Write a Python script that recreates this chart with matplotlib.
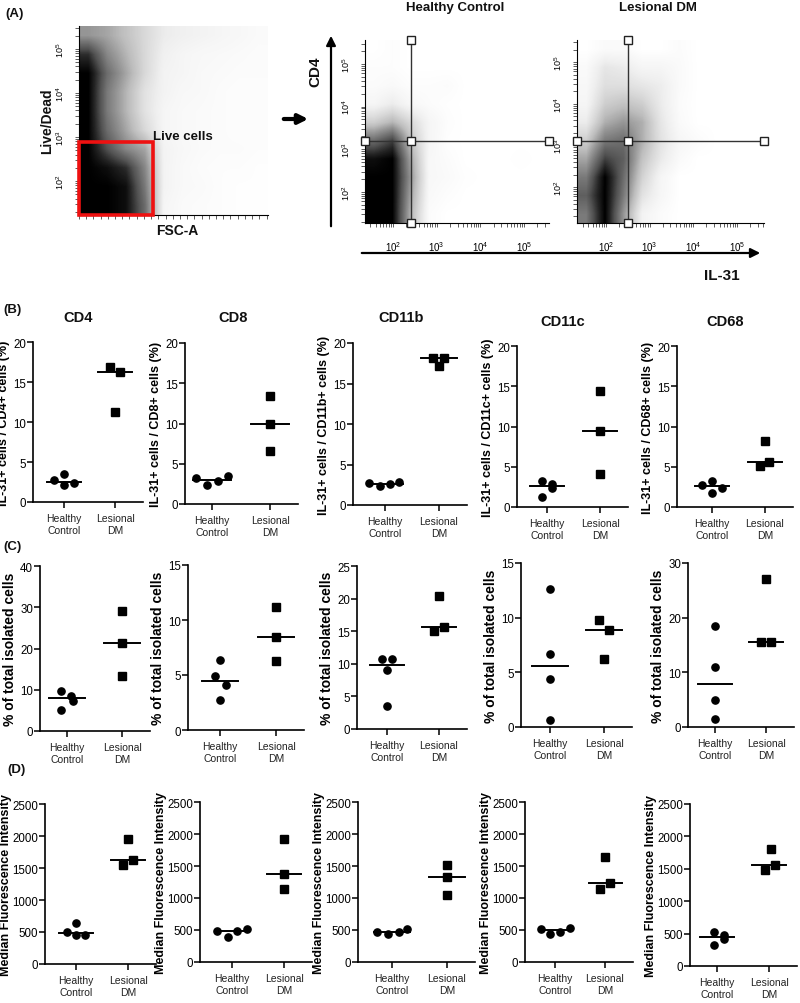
import numpy as np
import matplotlib
matplotlib.use('Agg')
import matplotlib.pyplot as plt
from matplotlib.patches import Rectangle

plt.rcParams['font.family'] = ['Liberation Sans', 'DejaVu Sans']
plt.rcParams['mathtext.default'] = 'regular'

W, H = 800, 1004

# ---------------- (A) flow dot plots, read as coarse density grids (0 empty .. 1 solid)
# rows top -> bottom, columns left -> right
live_dead_density = [
    [0.50, 0.45, 0.35, 0.25, 0.15, 0.12, 0.10, 0.08, 0.06, 0.04],
    [0.85, 0.55, 0.40, 0.25, 0.12, 0.08, 0.06, 0.05, 0.04, 0.03],
    [1.00, 0.65, 0.45, 0.25, 0.10, 0.08, 0.05, 0.04, 0.03, 0.03],
    [1.00, 0.60, 0.40, 0.20, 0.10, 0.06, 0.05, 0.03, 0.02, 0.02],
    [1.00, 0.60, 0.40, 0.20, 0.08, 0.05, 0.04, 0.03, 0.02, 0.02],
    [1.00, 0.65, 0.45, 0.25, 0.08, 0.05, 0.04, 0.03, 0.02, 0.02],
    [1.00, 0.75, 0.55, 0.45, 0.10, 0.06, 0.04, 0.03, 0.03, 0.02],
    [1.00, 0.95, 0.85, 0.55, 0.10, 0.05, 0.03, 0.02, 0.02, 0.01],
    [1.00, 1.00, 0.95, 0.60, 0.10, 0.05, 0.04, 0.02, 0.01, 0.01],
    [1.00, 1.00, 0.95, 0.65, 0.08, 0.04, 0.03, 0.02, 0.01, 0.01],
]
hc_density = [
    [0.00, 0.02, 0.00, 0.00, 0.00, 0.00, 0.00, 0.00, 0.00, 0.00],
    [0.02, 0.02, 0.00, 0.00, 0.00, 0.00, 0.00, 0.00, 0.00, 0.00],
    [0.03, 0.05, 0.02, 0.02, 0.03, 0.00, 0.00, 0.00, 0.00, 0.00],
    [0.08, 0.15, 0.06, 0.03, 0.01, 0.00, 0.00, 0.00, 0.00, 0.00],
    [0.30, 0.40, 0.25, 0.08, 0.02, 0.00, 0.00, 0.00, 0.00, 0.00],
    [0.65, 0.80, 0.35, 0.08, 0.01, 0.00, 0.00, 0.00, 0.00, 0.00],
    [0.95, 1.00, 0.45, 0.06, 0.03, 0.00, 0.00, 0.00, 0.01, 0.00],
    [1.00, 1.00, 0.50, 0.06, 0.04, 0.01, 0.00, 0.00, 0.00, 0.00],
    [1.00, 1.00, 0.45, 0.05, 0.02, 0.00, 0.00, 0.00, 0.00, 0.00],
    [1.00, 1.00, 0.40, 0.03, 0.00, 0.00, 0.00, 0.00, 0.00, 0.00],
]
ldm_density = [
    [0.00, 0.04, 0.04, 0.00, 0.00, 0.03, 0.00, 0.00, 0.00, 0.00],
    [0.04, 0.18, 0.15, 0.08, 0.08, 0.04, 0.00, 0.00, 0.00, 0.00],
    [0.06, 0.22, 0.22, 0.18, 0.14, 0.04, 0.00, 0.00, 0.00, 0.00],
    [0.08, 0.30, 0.35, 0.30, 0.15, 0.03, 0.00, 0.00, 0.00, 0.00],
    [0.15, 0.42, 0.50, 0.42, 0.18, 0.04, 0.00, 0.00, 0.00, 0.00],
    [0.30, 0.60, 0.65, 0.42, 0.20, 0.07, 0.03, 0.00, 0.00, 0.00],
    [0.45, 0.80, 0.70, 0.35, 0.16, 0.04, 0.00, 0.00, 0.00, 0.00],
    [0.60, 1.00, 0.65, 0.28, 0.08, 0.00, 0.00, 0.00, 0.00, 0.00],
    [0.70, 1.00, 0.60, 0.20, 0.07, 0.00, 0.00, 0.00, 0.00, 0.00],
    [0.60, 1.00, 0.50, 0.10, 0.03, 0.00, 0.00, 0.00, 0.00, 0.00],
]
# gates (log10 units): IL-31 cut, CD4 cut
hc_gate = [2.42, 3.2]
ldm_gate = [2.5, 3.1]
live_gate = [103, 2.89]    # FSC-A (k) upper edge, Live/Dead (log10) upper edge
decades = [2, 3, 4, 5]

# ---------------- (B) IL-31+ cells / marker+ cells (%)
b_titles = ['CD4', 'CD8', 'CD11b', 'CD11c', 'CD68']
b_ylabels = ['IL-31+ cells / %s+ cells (%%)' % t for t in b_titles]
b_hc = [[2.7, 3.5, 2.1, 2.4], [3.2, 2.3, 2.8, 3.5], [2.7, 2.4, 2.6, 2.9],
        [3.2, 1.3, 2.9, 2.3], [2.7, 3.2, 1.7, 2.4]]
b_ldm = [[16.9, 16.3, 11.3], [13.4, 9.9, 6.6], [18.1, 18.1, 17.2],
         [14.4, 9.4, 4.1], [8.2, 5.1, 5.6]]
b_ymax = [20, 20, 20, 20, 20]
b_ystep = [5, 5, 5, 5, 5]

# ---------------- (C) % of total isolated cells
c_hc = [[9.6, 5.0, 8.5, 7.3], [6.4, 4.9, 4.1, 2.75], [10.7, 10.7, 9.0, 3.6],
        [12.6, 6.7, 4.4, 0.64], [18.4, 10.9, 4.9, 1.5]]
c_ldm = [[29.0, 21.3, 13.3], [11.2, 8.5, 6.3], [20.4, 15.1, 15.6],
         [9.8, 8.9, 6.2], [27.1, 15.5, 15.5]]
c_ymax = [40, 15, 25, 15, 30]
c_ystep = [10, 5, 5, 5, 10]

# ---------------- (D) Median Fluorescence Intensity
d_hc = [[500, 635, 460, 460], [492, 388, 482, 518], [474, 443, 474, 520],
        [520, 443, 474, 531], [517, 320, 480, 410]]
d_ldm = [[1953, 1547, 1630], [1917, 1373, 1140], [1510, 1333, 1047],
         [1646, 1146, 1240], [1810, 1484, 1551]]
d_ymax = [2500] * 5
d_ystep = [500] * 5

groups = ['Healthy\nControl', 'Lesional\nDM']

# horizontal scatter of the points (layout only)
b_hc_dx = [[-0.19, 0, 0, 0.19], [-0.28, -0.09, 0.1, 0.28], [-0.29, -0.1, 0.1, 0.26],
           [-0.1, -0.1, 0.1, 0.1], [-0.19, 0, 0, 0.19]]
b_ldm_dx = [[-0.1, 0.1, 0], [0, 0, 0], [-0.12, 0.09, 0], [0, 0, 0], [0, -0.1, 0.08]]
c_hc_dx = [[-0.11, -0.11, 0.08, 0.1], [0, -0.09, 0.1, 0], [-0.1, 0.1, 0, 0],
           [0, 0, 0, 0], [0, 0, 0, 0]]
c_ldm_dx = [[0, 0, 0], [0, 0, 0], [0, -0.1, 0.1], [-0.09, 0.1, 0], [0, -0.1, 0.1]]
d_hc_dx = [[-0.18, 0, 0, 0.18], [-0.28, -0.08, 0.1, 0.28], [-0.27, -0.08, 0.12, 0.28],
           [-0.29, -0.1, 0.1, 0.29], [-0.06, -0.06, 0.13, 0.13]]
d_ldm_dx = [[0, -0.09, 0.1], [0, 0, 0], [0, 0, 0], [0, -0.11, 0.1], [0.03, -0.08, 0.12]]

# pixel layout: y-axis x, HC x, LDM x, top y, zero y
b_box = [(33, 64, 115, 343, 503), (185, 212, 270, 344, 505), (353, 385, 439, 344, 506),
         (517, 547, 600, 347, 508), (677, 712, 765, 347, 508)]
c_box = [(40, 67, 122, 567, 732), (188, 220, 276, 566, 731), (357, 387, 439, 567, 730),
         (521, 550, 604, 564, 728), (688, 715, 766, 564, 728)]
d_box = [(45, 76, 128, 805, 965), (200, 232, 284, 803, 963), (358, 392, 447, 803, 963),
         (525, 555, 605, 803, 963), (690, 717, 769, 805, 967)]


def pxAxes(fig, left, top, right, bottom):
    return fig.add_axes([left / W, 1 - bottom / H, (right - left) / W, (bottom - top) / H])


def flowPlot(ax, density, xlim, ylim, gate):
    ax.imshow(np.array(density), cmap='Greys', vmin=0, vmax=1, aspect='auto',
              extent=(xlim[0], xlim[1], ylim[0], ylim[1]), interpolation='bilinear')
    ax.set_xlim(*xlim)
    ax.set_ylim(*ylim)
    for s in ['top', 'right']:
        ax.spines[s].set_visible(False)
    minor = [d + np.log10(k) for d in range(1, 6) for k in range(2, 10)]
    ax.set_xticks(decades)
    ax.set_yticks(decades)
    ax.set_xticklabels(['$10^{%d}$' % d for d in decades], fontsize=7)
    ax.set_yticklabels(['$10^{%d}$' % d for d in decades], fontsize=6.5, rotation=90, va='center')
    ax.set_xticks([m for m in minor if xlim[0] < m < xlim[1]], minor=True)
    ax.set_yticks([m for m in minor if ylim[0] < m < ylim[1]], minor=True)
    ax.tick_params(which='both', length=3, width=0.6, color='#444')
    ax.tick_params(axis='x', pad=9)
    ax.tick_params(axis='y', pad=6)
    gx, gy = gate
    ax.plot([gx, gx], [ylim[0], ylim[1]], color='#333', lw=1, clip_on=False)
    ax.plot([xlim[0], xlim[1]], [gy, gy], color='#333', lw=1, clip_on=False)
    ax.plot([xlim[0], gx, xlim[1], gx, gx], [gy, gy, gy, ylim[0], ylim[1]], 's',
            mfc='white', mec='#222', ms=6, mew=1, clip_on=False, zorder=5)


def dotPlot(ax, hc, ldm, hc_dx, ldm_dx, ymax, ystep, ylabel, box, labelsize, labelpad):
    axis_x, hc_x, ldm_x, top, zero = box
    unit = ldm_x - hc_x
    ax.set_xlim(-(hc_x - axis_x) / unit, 1 + 28 / unit)
    ax.set_ylim(0, ymax)
    ax.plot(np.array(hc_dx), hc, 'o', color='k', ms=5.2, clip_on=False)
    ax.plot(1 + np.array(ldm_dx), ldm, 's', color='k', ms=5.2, clip_on=False)
    for x0, vals in [(0, hc), (1, ldm)]:
        m = np.median(vals)
        ax.plot([x0 - 0.33, x0 + 0.33], [m, m], color='k', lw=1.4)
    for s in ['top', 'right']:
        ax.spines[s].set_visible(False)
    for s in ['left', 'bottom']:
        ax.spines[s].set_linewidth(1.2)
    ax.set_yticks(np.arange(0, ymax + 1, ystep))
    ax.set_xticks([0, 1])
    ax.set_xticklabels(groups, fontsize=7.5, color='#222')
    ax.tick_params(axis='y', labelsize=8.3, length=4, width=1.1, pad=1)
    ax.tick_params(axis='x', length=4, width=1.1, pad=4)
    ax.set_ylabel(ylabel, fontsize=labelsize, fontweight='bold', labelpad=labelpad)


fig = plt.figure(figsize=(W / 100, H / 100), dpi=100)

# ---- (A)
ax = pxAxes(fig, 79, 27, 268, 216)
ax.imshow(np.array(live_dead_density), cmap='Greys', vmin=0, vmax=1, aspect='auto',
          extent=(0, 262, 1.23, 5.52), interpolation='bilinear')
ax.set_xlim(0, 262)
ax.set_ylim(1.23, 5.52)
for s in ['top', 'right']:
    ax.spines[s].set_visible(False)
ax.set_xticks(np.arange(0, 262, 10))
ax.set_xticklabels([])
ax.set_yticks(decades)
ax.set_yticklabels(['$10^{%d}$' % d for d in decades], fontsize=6.5, rotation=90, va='center')
ax.set_yticks([d + np.log10(k) for d in range(1, 6) for k in range(2, 10)
               if 1.23 < d + np.log10(k) < 5.52], minor=True)
ax.tick_params(which='both', length=3, width=0.6, color='#444')
ax.tick_params(axis='y', pad=6)
ax.add_patch(Rectangle((0, 1.23), live_gate[0], live_gate[1] - 1.23, fill=False,
                       edgecolor='#ee1111', lw=2.6, clip_on=False, zorder=6))

ax = pxAxes(fig, 365, 41, 549, 224)
flowPlot(ax, hc_density, (1.36, 5.57), (1.27, 5.56), hc_gate)
ax = pxAxes(fig, 577, 41, 764, 224)
flowPlot(ax, ldm_density, (1.34, 5.62), (1.14, 5.53), ldm_gate)

# ---- (B), (C), (D)
for i in range(5):
    a, h, l, t, z = b_box[i]
    ax = pxAxes(fig, a, t, l + 28, z)
    dotPlot(ax, b_hc[i], b_ldm[i], b_hc_dx[i], b_ldm_dx[i], b_ymax[i], b_ystep[i],
            b_ylabels[i], b_box[i], 9, 2)
for i in range(5):
    a, h, l, t, z = c_box[i]
    ax = pxAxes(fig, a, t, l + 28, z)
    dotPlot(ax, c_hc[i], c_ldm[i], c_hc_dx[i], c_ldm_dx[i], c_ymax[i], c_ystep[i],
            '% of total isolated cells', c_box[i], 10, 2)
for i in range(5):
    a, h, l, t, z = d_box[i]
    ax = pxAxes(fig, a, t, l + 28, z)
    dotPlot(ax, d_hc[i], d_ldm[i], d_hc_dx[i], d_ldm_dx[i], d_ymax[i], d_ystep[i],
            'Median Fluorescence Intensity', d_box[i], 9, 0)

# ---- overlay for labels and arrows (pixel coords)
ov = fig.add_axes([0, 0, 1, 1], facecolor='none')
ov.set_xlim(0, W)
ov.set_ylim(H, 0)
ov.axis('off')
bold = dict(fontweight='bold', color='#111')
ov.text(5, 14, '(A)', fontsize=9.5, ha='left', va='center', **bold)
ov.text(3, 310, '(B)', fontsize=9.5, ha='left', va='center', **bold)
ov.text(3, 547, '(C)', fontsize=9.5, ha='left', va='center', **bold)
ov.text(7, 770, '(D)', fontsize=9.5, ha='left', va='center', **bold)
ov.text(47, 121, 'Live/Dead', fontsize=10, rotation=90, ha='center', va='center', **bold)
ov.text(177, 231, 'FSC-A', fontsize=10, ha='center', va='center', **bold)
ov.text(153, 137, 'Live cells', fontsize=9.5, ha='left', va='center', **bold)
ov.text(455, 8, 'Healthy Control', fontsize=9.5, ha='center', va='center', **bold)
ov.text(658, 8, 'Lesional DM', fontsize=9.5, ha='center', va='center', **bold)
ov.text(315, 72, 'CD4', fontsize=11, rotation=90, ha='center', va='center', **bold)
ov.text(722, 276, 'IL-31', fontsize=11, ha='center', va='center', **bold)
ov.annotate('', xy=(311, 120), xytext=(281, 120),
            arrowprops=dict(arrowstyle='-|>', lw=3, color='k', mutation_scale=14))
ov.annotate('', xy=(331, 34), xytext=(331, 230),
            arrowprops=dict(arrowstyle='-|>', lw=1.6, color='k', mutation_scale=14))
ov.annotate('', xy=(763, 254), xytext=(359, 254),
            arrowprops=dict(arrowstyle='-|>', lw=1.6, color='k', mutation_scale=14))
b_title_x = [78, 233, 401, 563, 725]
b_title_y = [318, 318, 318, 322, 322]
for t, x, y in zip(b_titles, b_title_x, b_title_y):
    ov.text(x, y, t, fontsize=10.5, ha='center', va='center', **bold)

fig.savefig('out.png', dpi=100)
